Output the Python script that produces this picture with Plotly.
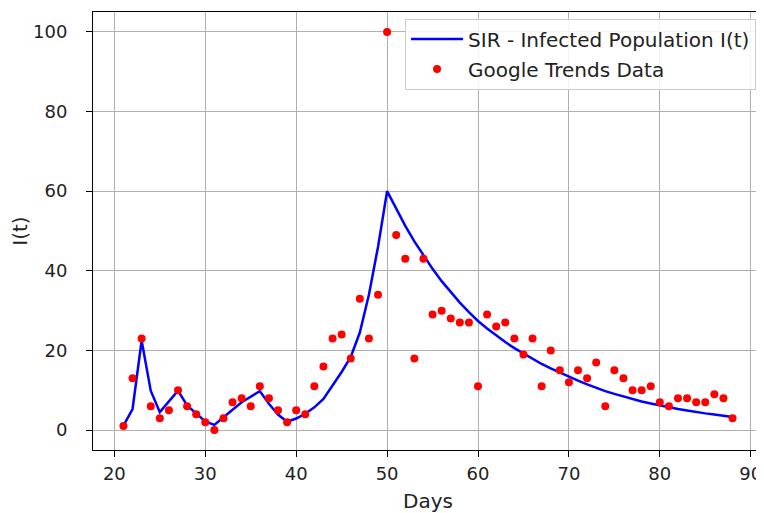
import plotly.graph_objects as go

days = list(range(21, 89))

trends = [1, 13, 23, 6, 3, 5, 10, 6, 4, 2, 0, 3, 7, 8, 6, 11, 8, 5, 2, 5,
          4, 11, 16, 23, 24, 18, 33, 23, 34, 100, 49, 43, 18, 43, 29, 30, 28, 27, 27, 11,
          29, 26, 27, 23, 19, 23, 11, 20, 15, 12, 15, 13, 17, 6, 15, 13, 10, 10, 11, 7,
          6, 8, 8, 7, 7, 9, 8, 3]

sir_infected = [1.1, 5.3, 22.5, 9.9, 4.5, 7.2, 9.9, 6.2, 4.1, 2.2, 1.3, 3.1, 5.1, 7.0, 8.3, 9.8,
                6.6, 3.9, 2.1, 2.9, 4.1, 5.7, 7.8, 11.2, 14.6, 18.4, 24.5, 34.0, 46.0, 60.0,
                55.5, 51.3, 47.4, 43.8, 40.5, 37.4, 34.6, 32.0, 29.6, 27.4,
                25.5, 23.7, 22.1, 20.6, 19.2, 17.9, 16.6, 15.5, 14.4, 13.4,
                12.4, 11.5, 10.6, 9.8, 9.1, 8.4, 7.8, 7.2, 6.7, 6.2,
                5.7, 5.3, 4.9, 4.5, 4.2, 3.9, 3.6, 3.3]

x_ticks = [20, 30, 40, 50, 60, 70, 80, 90]
y_ticks = [0, 20, 40, 60, 80, 100]

font_family = "DejaVu Sans"
txt = "#222222"

fig = go.Figure()
fig.add_trace(go.Scatter(
    x=days, y=sir_infected, mode="lines",
    name="SIR - Infected Population I(t)",
    line=dict(color="#0000ff", width=2.5),
    legendgroup="a",
))
fig.add_trace(go.Scatter(
    x=days, y=trends, mode="markers",
    name="Google Trends Data",
    marker=dict(color="#ff0000", size=8),
    legendgroup="b",
))

axis_common = dict(
    showgrid=True, gridcolor="#b0b0b0", gridwidth=1,
    showline=True, linecolor="#000000", linewidth=1, mirror=True,
    ticks="outside", ticklen=6, tickwidth=1, tickcolor="#000000",
    zeroline=False, automargin=False,
    tickfont=dict(family=font_family, size=18, color=txt),
    title_font=dict(family=font_family, size=20, color=txt),
)

fig.update_xaxes(range=[17.65, 91.35], tickvals=x_ticks, ticklabelstandoff=1,
                 title_text="Days", title_standoff=16, **axis_common)
fig.update_yaxes(range=[-5, 105], tickvals=y_ticks, ticklabelstandoff=15,
                 title_text="I(t)", title_standoff=0, **axis_common)

# the page body adds an 8px offset, so the figure is 8px smaller on each axis
fig.update_layout(
    width=756, height=505,
    margin=dict(l=85, r=1, t=4, b=63),
    paper_bgcolor="white", plot_bgcolor="white",
    font=dict(family=font_family, size=18, color=txt),
    showlegend=True,
    legend=dict(
        x=0.9896, y=0.985, xanchor="right", yanchor="top",
        bgcolor="rgba(255,255,255,0.85)", bordercolor="#cccccc", borderwidth=1,
        font=dict(family=font_family, size=20, color=txt),
        tracegroupgap=1,
        itemwidth=52,
    ),
)

fig.write_html("out.html")
